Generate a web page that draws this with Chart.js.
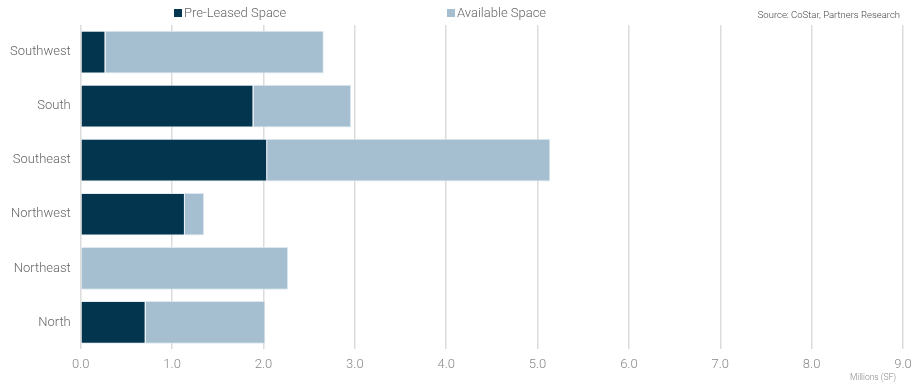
<!DOCTYPE html>
<html>
<head>
<meta charset="utf-8">
<script src="https://cdn.jsdelivr.net/npm/chart.js@4.4.1/dist/chart.umd.min.js"></script>
<style>
html,body{margin:0;padding:0;background:#fff;}
#wrap{width:923px;height:387px;position:relative;}
</style>
</head>
<body>
<div id="wrap"><canvas id="c"></canvas></div>
<script>
const categories = ["Southwest", "South", "Southeast", "Northwest", "Northeast", "North"];
const preLeased = [0.27, 1.89, 2.04, 1.14, 0.00, 0.71];
const available = [2.39, 1.07, 3.10, 0.21, 2.27, 1.31];
const xTicks = [0, 1, 2, 3, 4, 5, 6, 7, 8, 9];
const seriesNames = ["Pre-Leased Space", "Available Space"];
const sourceText = "Source: CoStar, Partners Research";
const axisTitle = "Millions (SF)";

const FONT = "Roboto";
const colors = ["#03354f", "#a5bfd1"];

const legendPlugin = {
  id: 'customLegend',
  afterDraw(chart) {
    const ctx = chart.ctx;
    ctx.save();
    ctx.font = "300 13px " + FONT;
    ctx.textBaseline = "middle";
    const xs = [174, 447];
    chart.data.datasets.forEach((ds, i) => {
      ctx.fillStyle = ds.backgroundColor;
      ctx.fillRect(xs[i], 9, 8, 8);
      ctx.fillStyle = "#666";
      ctx.fillText(ds.label, xs[i] + 10, 13.5);
    });
    ctx.font = "300 9.5px " + FONT;
    ctx.fillStyle = "#444";
    ctx.textAlign = "right";
    ctx.fillText(sourceText, 900, 16);
    ctx.font = "300 8.5px " + FONT;
    ctx.fillStyle = "#888";
    ctx.fillText(axisTitle, 896, 378);
    ctx.restore();
  }
};

new Chart(document.getElementById('c'), {
  type: 'bar',
  data: {
    labels: categories,
    datasets: [
      { label: seriesNames[0], data: preLeased, backgroundColor: colors[0], borderColor: "rgba(220,230,238,0.8)", borderWidth: 1, categoryPercentage: 1, barPercentage: 0.79 },
      { label: seriesNames[1], data: available, backgroundColor: colors[1], borderColor: "rgba(220,230,238,0.9)", borderWidth: 1, categoryPercentage: 1, barPercentage: 0.79 }
    ]
  },
  options: {
    indexAxis: 'y',
    responsive: true,
    maintainAspectRatio: false,
    animation: false,
    layout: { padding: { top: 25, right: 20, left: 0, bottom: 6 } },
    plugins: { legend: { display: false }, tooltip: { enabled: false } },
    scales: {
      x: {
        stacked: true,
        min: 0, max: 9,
        afterBuildTicks(axis) { axis.ticks = xTicks.map(v => ({ value: v })); },
        ticks: {
          color: "#888",
          font: { family: FONT, size: 13, weight: 300 },
          padding: 8,
          callback: v => Number(v).toFixed(1)
        },
        grid: { color: "#dcdcdc", lineWidth: 1.5, drawTicks: false },
        border: { display: false }
      },
      y: {
        stacked: true,
        ticks: { color: "#666", font: { family: FONT, size: 13, weight: 300 }, padding: 10 },
        grid: { display: false, drawTicks: false },
        border: { display: false }
      }
    }
  },
  plugins: [legendPlugin]
});
</script>
</body>
</html>
